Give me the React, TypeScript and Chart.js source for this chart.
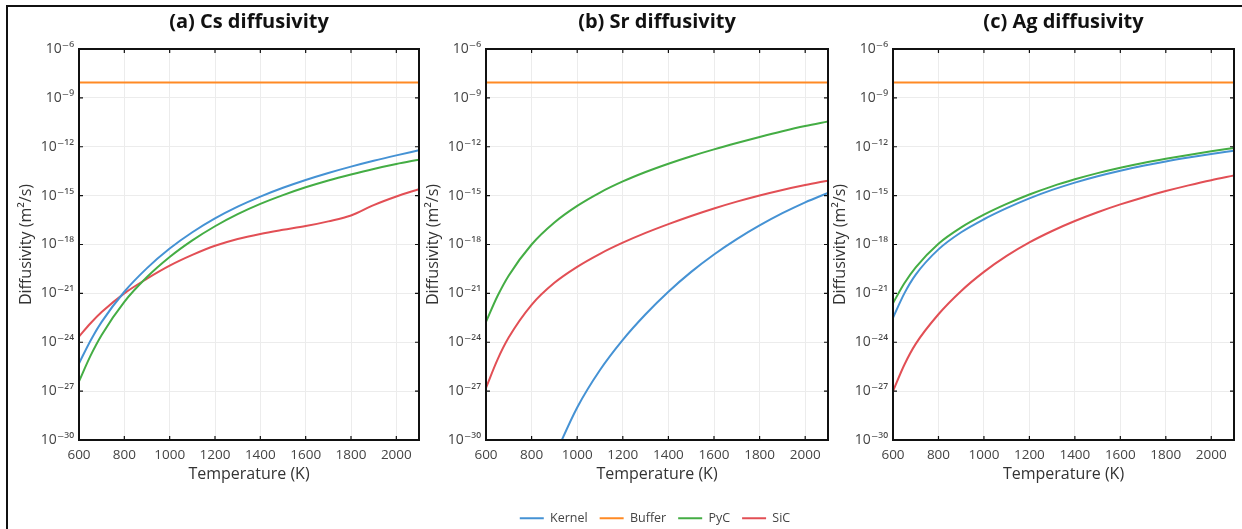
import React, { useEffect, useRef } from "react";
import { Chart, registerables } from "chart.js";

Chart.register(...registerables);

// ---------- data (log10 of diffusivity, m^2/s) ----------
const TEMPS = [600, 650, 700, 800, 900, 1000, 1100, 1200, 1300, 1400, 1500, 1600, 1700, 1800, 1900, 2000, 2100];

const BUFFER_LOG10 = [-8.05, -8.05, -8.05, -8.05, -8.05, -8.05, -8.05, -8.05, -8.05, -8.05, -8.05, -8.05, -8.05, -8.05, -8.05, -8.05, -8.05];

const CS_KERNEL_LOG10 = [-25.3, -23.92, -22.75, -20.9, -19.45, -18.25, -17.25, -16.4, -15.68, -15.06, -14.52, -14.04, -13.61, -13.22, -12.86, -12.53, -12.22];
const CS_PYC_LOG10 = [-26.4, -24.85, -23.55, -21.52, -20.0, -18.77, -17.75, -16.88, -16.14, -15.51, -14.97, -14.49, -14.07, -13.7, -13.36, -13.06, -12.79];
const CS_SIC_LOG10 = [-23.65, -22.85, -22.15, -21.0, -20.1, -19.3, -18.64, -18.08, -17.66, -17.35, -17.1, -16.87, -16.58, -16.22, -15.58, -15.05, -14.6];

const SR_KERNEL_LOG10 = [null, null, null, null, -31.0, -28.0, -25.7, -23.85, -22.28, -20.9, -19.68, -18.61, -17.67, -16.83, -16.08, -15.41, -14.83];
const SR_PYC_LOG10 = [-22.75, -21.18, -19.9, -18.0, -16.65, -15.63, -14.81, -14.13, -13.55, -13.04, -12.58, -12.16, -11.77, -11.4, -11.05, -10.73, -10.45];
const SR_SIC_LOG10 = [-26.8, -25.08, -23.7, -21.7, -20.35, -19.37, -18.57, -17.89, -17.29, -16.75, -16.25, -15.79, -15.37, -14.99, -14.65, -14.35, -14.08];

const AG_KERNEL_LOG10 = [-22.5, -21.0, -19.85, -18.3, -17.25, -16.45, -15.77, -15.17, -14.65, -14.2, -13.81, -13.47, -13.17, -12.9, -12.66, -12.44, -12.24];
const AG_PYC_LOG10 = [-21.6, -20.38, -19.4, -17.95, -16.95, -16.17, -15.51, -14.93, -14.43, -14.0, -13.62, -13.29, -13.0, -12.74, -12.5, -12.28, -12.07];
const AG_SIC_LOG10 = [-27.0, -25.38, -24.1, -22.28, -20.85, -19.68, -18.7, -17.87, -17.17, -16.56, -16.02, -15.54, -15.11, -14.72, -14.37, -14.05, -13.77];

const SERIES_NAMES = ["Kernel", "Buffer", "PyC", "SiC"];
const PANEL_TITLES = ["(a) Cs diffusivity", "(b) Sr diffusivity", "(c) Ag diffusivity"];
const Y_TICK_EXPONENTS = [-30, -27, -24, -21, -18, -15, -12, -9, -6];
const X_TICK_STEP = 200;
const X_MIN = 600;
const X_MAX = 2100;

// ---------- styles ----------
const COLORS = ["#4592d4", "#ff8a24", "#44ad44", "#e24f55"];
const FONT = "'Open Sans', 'DejaVu Sans', sans-serif";

const SUP: Record<string, string> = {
  "-": "\u207B", "0": "\u2070", "1": "\u00B9", "2": "\u00B2", "3": "\u00B3",
  "4": "\u2074", "5": "\u2075", "6": "\u2076", "7": "\u2077", "8": "\u2078", "9": "\u2079",
};
const supLabel = (e: number) => "10" + String(e).split("").map((c) => SUP[c] || c).join("");

const frameTicksPlugin = {
  id: "frameTicks",
  afterDatasetsDraw(chart: any) {
    const { ctx, chartArea: a, scales } = chart;
    const xs = scales.x;
    const ys = scales.y;
    ctx.save();
    ctx.strokeStyle = "#111";
    ctx.lineWidth = 1.2;
    ctx.beginPath();
    xs.ticks.forEach((t: any) => {
      const px = xs.getPixelForValue(t.value);
      ctx.moveTo(px, a.bottom);
      ctx.lineTo(px, a.bottom - 4);
      ctx.moveTo(px, a.top);
      ctx.lineTo(px, a.top + 4);
    });
    ys.ticks.forEach((t: any) => {
      const py = ys.getPixelForValue(t.value);
      ctx.moveTo(a.left, py);
      ctx.lineTo(a.left + 4, py);
      ctx.moveTo(a.right, py);
      ctx.lineTo(a.right - 4, py);
    });
    ctx.stroke();
    ctx.lineWidth = 2;
    ctx.strokeRect(a.left, a.top, a.right - a.left, a.bottom - a.top);
    ctx.restore();
  },
};

type PanelProps = {
  title: string;
  series: (number | null)[][];
  left: number;
  width: number;
};

function Panel({ title, series, left, width }: PanelProps) {
  const ref = useRef<HTMLCanvasElement>(null);
  useEffect(() => {
    if (!ref.current) return;
    const datasets = series.map((vals, si) => ({
      label: SERIES_NAMES[si],
      data: TEMPS.map((t, i) => ({ x: t, y: vals[i] == null ? null : Math.pow(10, vals[i] as number) })),
      borderColor: COLORS[si],
      backgroundColor: COLORS[si],
      borderWidth: 2,
      pointRadius: 0,
      fill: false,
      cubicInterpolationMode: "monotone" as const,
    }));
    const chart = new Chart(ref.current, {
      type: "line",
      data: { datasets },
      options: {
        responsive: false,
        animation: false,
        layout: { padding: { left: 0, right: 6, top: 0, bottom: 0 } },
        plugins: {
          legend: { display: false },
          tooltip: { enabled: false },
          title: {
            display: true,
            fullSize: false,
            text: title,
            color: "#111",
            font: { family: FONT, size: 20, weight: "bold" },
            padding: { top: 10, bottom: 15 },
          },
        },
        scales: {
          x: {
            type: "linear",
            min: X_MIN,
            max: X_MAX,
            afterFit: (s: any) => { s.height = 55; },
            grid: { color: "#ececec", lineWidth: 1, drawTicks: false },
            border: { display: false },
            ticks: {
              stepSize: X_TICK_STEP,
              includeBounds: false,
              padding: 7,
              color: "#444",
              font: { family: FONT, size: 13.5 },
              callback: (v: any) => String(v),
              maxRotation: 0,
            },
            title: {
              display: true,
              text: "Temperature (K)",
              color: "#333",
              font: { family: FONT, size: 16 },
              padding: { top: 0, bottom: 11 },
            },
          },
          y: {
            type: "logarithmic",
            min: 1e-30,
            max: 1e-6,
            afterFit: (s: any) => { s.width = 72; },
            afterBuildTicks: (s: any) => {
              s.ticks = Y_TICK_EXPONENTS.map((e) => ({ value: Number("1e" + e) }));
            },
            grid: { color: "#ececec", lineWidth: 1, drawTicks: false },
            border: { display: false },
            ticks: {
              padding: 5,
              color: "#444",
              font: { family: FONT, size: 14 },
              callback: (v: any) => supLabel(Math.round(Math.log10(v))),
            },
            title: {
              display: true,
              text: "Diffusivity (m\u00B2/s)",
              color: "#333",
              font: { family: FONT, size: 16 },
              padding: { top: 10, bottom: 0 },
            },
          },
        },
      },
      plugins: [frameTicksPlugin],
    } as any);
    return () => chart.destroy();
  }, []);
  return (
    <canvas
      ref={ref}
      width={width}
      height={495}
      style={{ position: "absolute", left, top: 0, width, height: 495 }}
    />
  );
}

function LegendStrip() {
  const ref = useRef<HTMLCanvasElement>(null);
  useEffect(() => {
    if (!ref.current) return;
    const chart = new Chart(ref.current, {
      type: "line",
      data: {
        datasets: SERIES_NAMES.map((n, i) => ({
          label: n,
          data: [],
          borderColor: COLORS[i],
          backgroundColor: COLORS[i],
          borderWidth: 2,
          pointRadius: 0,
        })),
      },
      options: {
        responsive: false,
        animation: false,
        layout: { padding: 0 },
        plugins: {
          tooltip: { enabled: false },
          legend: {
            display: true,
            position: "top",
            labels: {
              usePointStyle: true,
              pointStyle: "line",
              pointStyleWidth: 24,
              padding: 12,
              color: "#444",
              font: { family: FONT, size: 12.5 },
            },
          },
        },
        scales: { x: { display: false }, y: { display: false } },
      },
    } as any);
    return () => chart.destroy();
  }, []);
  return (
    <canvas
      ref={ref}
      width={400}
      height={80}
      style={{ position: "absolute", left: 455, top: 500, width: 400, height: 80 }}
    />
  );
}

export default function App() {
  const panels = [
    { title: PANEL_TITLES[0], series: [CS_KERNEL_LOG10, BUFFER_LOG10, CS_PYC_LOG10, CS_SIC_LOG10], left: 7, width: 418 },
    { title: PANEL_TITLES[1], series: [SR_KERNEL_LOG10, BUFFER_LOG10, SR_PYC_LOG10, SR_SIC_LOG10], left: 414, width: 420 },
    { title: PANEL_TITLES[2], series: [AG_KERNEL_LOG10, BUFFER_LOG10, AG_PYC_LOG10, AG_SIC_LOG10], left: 821, width: 419 },
  ];
  return (
    <div style={{ position: "absolute", left: 0, top: 0, width: 1242, height: 529, background: "#fff", overflow: "hidden" }}>
      <div
        style={{
          position: "absolute",
          left: 6,
          top: 5,
          width: 1250,
          height: 540,
          borderLeft: "2px solid #111",
          borderTop: "2px solid #111",
        }}
      />
      {panels.map((p, i) => (
        <Panel key={i} title={p.title} series={p.series} left={p.left} width={p.width} />
      ))}
      <LegendStrip />
    </div>
  );
}
